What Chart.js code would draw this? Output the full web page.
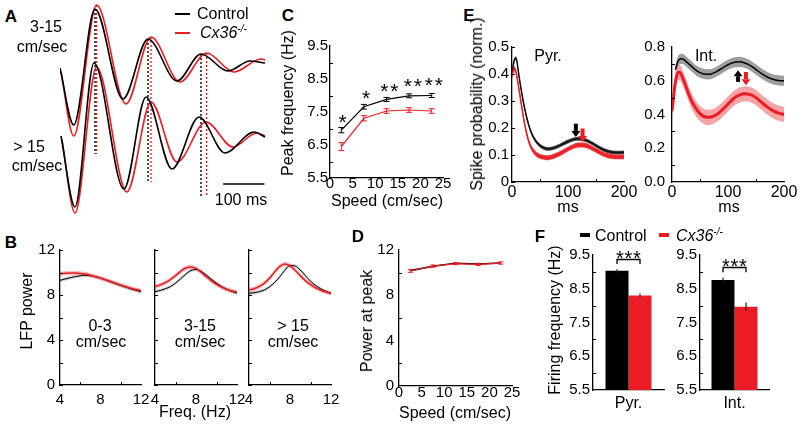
<!DOCTYPE html>
<html><head><meta charset="utf-8">
<script src="https://cdn.jsdelivr.net/npm/chart.js@4.4.1/dist/chart.umd.min.js"></script>
<style>
html,body{margin:0;padding:0;background:#fff;}
body{width:800px;height:426px;position:relative;overflow:hidden;font-family:'Liberation Sans',Arial,Helvetica,sans-serif;color:#000;}
canvas{position:absolute;}
.t{position:absolute;white-space:nowrap;font-size:16px;line-height:1;transform:translate(-50%,-50%);}
.l{transform:translate(0,-50%);}
.v{transform:translate(-50%,-50%) rotate(-90deg);}
.p{font-weight:bold;font-size:17px;}
.bx{position:absolute;}
sup{font-size:10px;vertical-align:6px;line-height:0;font-style:italic;}
</style></head><body>
<script>
// ---------------- DATA ----------------
// Panel A (time in ms, amplitude in arbitrary units)
const upperCtrlT = [0, 33.2, 84.7, 152.5, 213.1, 283.3, 341.4, 406.8, 460, 496.4];
const upperCtrlV = [152, 95, 211, 121, 181, 139, 166, 149, 159, 157];
const upperKoT = [2.4, 33.2, 88.6, 159.8, 220.3, 290.6, 355.0, 421.3, 486.7, 496.4];
const upperKoV = [148, 84, 215, 116, 183, 138, 167, 148, 161, 160];
const lowerCtrlT = [2.4, 36.3, 82.3, 155, 208.2, 271.2, 336.6, 399.5, 469.7, 496.4];
const lowerCtrlV = [84, 13, 157, 31, 123, 51, 103, 67, 88, 83];
const lowerKoT = [4.8, 36.3, 88.6, 162.2, 220.3, 283.3, 353.5, 418.9, 476.5, 496.4];
const lowerKoV = [80, 7, 153, 28, 118, 58, 98, 73, 87, 84];
const peakCtrlT = [84.7, 213.1, 341.4];
const peakCtrlTop = [211, 181, 166];
const peakKoT = [88.6, 220.3, 355.0];
const peakKoTop = [215, 183, 167];
const peakBottom = [66, 38, 23];
const scaleBarT = [395, 495];
const scaleBarV = 36;

// Panel B (LFP power vs frequency)
const bFreq = [4,4.5,5,5.5,6,6.5,7,7.5,8,8.5,9,9.5,10,10.5,11,11.5,12];
const b03Ctrl = [9.30,9.42,9.53,9.63,9.71,9.75,9.72,9.63,9.50,9.35,9.18,9.01,8.85,8.70,8.55,8.42,8.30];
const b03Ko   = [9.90,9.93,9.95,9.95,9.92,9.86,9.76,9.63,9.50,9.36,9.20,9.04,8.88,8.74,8.61,8.49,8.38];
const b315Ctrl = [8.30,8.40,8.55,8.75,9.05,9.45,9.85,10.18,10.27,10.10,9.78,9.40,9.05,8.75,8.52,8.32,8.17];
const b315Ko   = [8.75,8.90,9.10,9.37,9.72,10.10,10.40,10.50,10.36,10.02,9.62,9.26,8.95,8.70,8.50,8.35,8.25];
const b15Ctrl = [8.15,8.20,8.30,8.45,8.72,9.12,9.62,10.20,10.62,10.58,10.22,9.72,9.22,8.85,8.55,8.32,8.15];
const b15Ko   = [8.45,8.56,8.76,9.06,9.50,10.05,10.55,10.76,10.60,10.20,9.72,9.28,8.92,8.64,8.42,8.26,8.15];
const bCtrlSem = 0.15, bKoSem = 0.2;
const bYTicks = [0,4,8,12], bYMinor = [2,6,10], bXTicks = [4,8,12], bXMinor = [6,10];

// Panel C (peak frequency vs speed)
const speeds = [2.5,7.5,12.5,17.5,22.5];
const cCtrl = [6.95,7.66,7.88,7.99,8.00];
const cCtrlErr = [0.08,0.07,0.06,0.06,0.06];
const cKo = [6.45,7.31,7.53,7.56,7.53];
const cKoErr = [0.12,0.08,0.07,0.07,0.07];
const cStars = ['*','*','**','**','**'];
const cStarX = [2.8,8.0,13.1,18.3,23.0];
const cStarY = [7.34,8.07,8.29,8.44,8.49];
const cYTicks = [5.5,6.5,7.5,8.5,9.5], cYMinor = [6,7,8,9];
const speedTicks = [0,5,10,15,20,25];

// Panel D (power at peak vs speed)
const dCtrl = [10.18,10.56,10.83,10.77,10.85];
const dKo = [10.15,10.58,10.80,10.73,10.85];
const dKoErr = [0.12,0.1,0.1,0.1,0.1];
const dYTicks = [0,4,8,12], dYMinor = [2,6,10];

// Panel E (spike probability vs lag)
const eT = [0,2,4,6,8,10,12,15,20,25,30,35,40,45,50,55,60,65,70,80,90,100,110,120,130,140,150,160,170,180,190,200];
const pyrCtrl = [0.40,0.43,0.45,0.458,0.455,0.43,0.40,0.36,0.30,0.25,0.21,0.18,0.16,0.145,0.135,0.128,0.124,0.123,0.124,0.13,0.14,0.15,0.158,0.16,0.156,0.147,0.135,0.123,0.114,0.11,0.109,0.11];
const pyrKo = [0.39,0.41,0.42,0.415,0.40,0.375,0.35,0.31,0.245,0.19,0.15,0.125,0.11,0.10,0.095,0.092,0.09,0.09,0.092,0.10,0.11,0.122,0.132,0.137,0.136,0.128,0.117,0.106,0.098,0.094,0.093,0.093];
const intCtrl = [null,null,null,0.665,0.69,0.71,0.722,0.73,0.728,0.715,0.70,0.685,0.67,0.657,0.648,0.642,0.639,0.638,0.64,0.655,0.675,0.695,0.708,0.712,0.705,0.69,0.666,0.642,0.622,0.609,0.602,0.60];
const intKo = [0.42,0.48,0.54,0.59,0.625,0.645,0.65,0.645,0.61,0.565,0.52,0.48,0.45,0.425,0.405,0.392,0.385,0.383,0.385,0.40,0.428,0.462,0.495,0.515,0.523,0.518,0.50,0.472,0.445,0.423,0.408,0.40];
const pyrCtrlSem = 0.007, pyrKoSem = 0.009, intCtrlSem = 0.03, intKoSem = 0.045;
const pyrArrows = [{x:114, from:0.216, to:0.167, c:'#000'}, {x:126, from:0.198, to:0.148, c:'red'}];
const intArrows = [{x:118, from:0.593, to:0.662, c:'#000'}, {x:132, from:0.652, to:0.573, c:'red'}];
const pyrYTicks = [0,0.1,0.2,0.3,0.4,0.5], pyrYLabels = ['0','0.1','0.2','0.3','0.4','0.5'];
const intYTicks = [0,0.2,0.4,0.6,0.8], intYLabels = ['0.0','0.2','0.4','0.6','0.8'], intYMinor = [0.1,0.3,0.5,0.7];
const msTicks = [0,100,200], msMinor = [50,150];

// Panel F (firing frequency)
const fPyr = [9.03, 8.30], fPyrErr = [0.05, 0.06];
const fInt = [8.76, 7.97], fIntErr = [0.07, 0.12];
const fYTicks = [5.5,6.5,7.5,8.5,9.5], fYMinor = [6,7,8,9];

// ---------------- RENDERING ----------------
const RED = '#ec1c24';
const FF = "'Liberation Sans', Arial, Helvetica, sans-serif";
Chart.defaults.font.family = FF;
Chart.defaults.font.size = 15;
Chart.defaults.color = '#000';

const zip = (xs, ys) => xs.map((x, i) => ({x, y: ys[i]}));

function mkCanvas(plot, m) {
  const c = document.createElement('canvas');
  const W = Math.round(plot.r - plot.l + m.l + m.r), H = Math.round(plot.b - plot.t + m.t + m.b);
  c.width = W; c.height = H;
  c.style.left = (plot.l - m.l) + 'px'; c.style.top = (plot.t - m.t) + 'px';
  c.style.width = W + 'px'; c.style.height = H + 'px';
  document.body.appendChild(c);
  return c;
}

function axis(o) {
  const a = {
    type: o.type || 'linear',
    display: o.display !== false,
    grid: {display: false, drawTicks: false},
    border: {display: true, color: '#000', width: 1.3},
    ticks: {display: false, autoSkip: false, maxRotation: 0},
    afterFit: s => { if (o.size == null) return; if (s.isHorizontal()) s.height = o.size; else s.width = o.size; }
  };
  if (a.type === 'linear') {
    a.min = o.min; a.max = o.max;
    if (o.ticks) a.afterBuildTicks = s => { s.ticks = o.ticks.map(v => ({value: v})); };
  }
  return a;
}

function drawStars(ctx, text, cx, cy, fs, pitch) {
  ctx.font = fs + 'px ' + FF; ctx.textAlign = 'center'; ctx.textBaseline = 'alphabetic'; ctx.fillStyle = '#000';
  const n = text.length, x0 = cx - (n - 1) * pitch / 2;
  for (let k = 0; k < n; k++) ctx.fillText(text[k], x0 + k * pitch, cy + 0.58 * fs);
}

function decor(cfg) {
  return {
    id: 'decor',
    afterDatasetsDraw(chart) {
      const {ctx, chartArea: a, scales} = chart;
      const xs = scales.x, ys = scales.y;
      ctx.save();
      // error bars
      chart.data.datasets.forEach((ds, di) => {
        if (!ds.err) return;
        const meta = chart.getDatasetMeta(di);
        ctx.strokeStyle = ds.errColor || ds.borderColor;
        ctx.lineWidth = ds.errWidth || 1;
        meta.data.forEach((el, i) => {
          const d = ds.data[i];
          const v = (d && typeof d === 'object') ? d.y : d;
          const e = ds.err[i];
          const x = el.x, y1 = ys.getPixelForValue(v + e), y2 = ys.getPixelForValue(v - e);
          ctx.beginPath(); ctx.moveTo(x, y1); ctx.lineTo(x, y2);
          const c = ds.errCap || 0;
          if (c) { ctx.moveTo(x - c, y1); ctx.lineTo(x + c, y1); ctx.moveTo(x - c, y2); ctx.lineTo(x + c, y2); }
          ctx.stroke();
        });
      });
      // inward tick marks
      ctx.strokeStyle = '#000'; ctx.lineWidth = 1;
      const len = cfg.len || 4;
      (cfg.yt || []).forEach(v => { const p = Math.round(ys.getPixelForValue(v)) + 0.5; ctx.beginPath(); ctx.moveTo(a.left, p); ctx.lineTo(a.left + len, p); ctx.stroke(); });
      (cfg.xt || []).forEach(v => { const p = Math.round(xs.getPixelForValue(v)) + 0.5; ctx.beginPath(); ctx.moveTo(p, a.bottom); ctx.lineTo(p, a.bottom - len); ctx.stroke(); });
      // tick labels
      ctx.fillStyle = '#000';
      if (cfg.yl) {
        const o = cfg.yl;
        ctx.font = (o.fs || 15) + 'px ' + FF; ctx.textAlign = 'right'; ctx.textBaseline = 'middle';
        o.ticks.forEach((v, i) => ctx.fillText(o.labels ? o.labels[i] : String(v), a.left - o.pad, ys.getPixelForValue(v)));
      }
      if (cfg.xl) {
        const o = cfg.xl;
        ctx.font = (o.fs || 15) + 'px ' + FF; ctx.textAlign = 'center'; ctx.textBaseline = 'middle';
        o.ticks.forEach((v, i) => ctx.fillText(o.labels ? o.labels[i] : String(v), xs.getPixelForValue(v), a.bottom + o.off));
      }
      // arrows
      (cfg.arrows || []).forEach(ar => {
        const px = xs.getPixelForValue(ar.x), p0 = ys.getPixelForValue(ar.from), p1 = ys.getPixelForValue(ar.to);
        const dir = Math.sign(p1 - p0), hl = 6, hw = 4.5, sw = 2;
        const hb = p1 - dir * hl;
        ctx.fillStyle = ar.c === 'red' ? RED : ar.c;
        ctx.fillRect(px - sw, Math.min(p0, hb), 2 * sw, Math.abs(hb - p0));
        ctx.beginPath(); ctx.moveTo(px - hw, hb); ctx.lineTo(px + hw, hb); ctx.lineTo(px, p1); ctx.closePath(); ctx.fill();
      });
      // significance bracket
      if (cfg.bracket) {
        const b = cfg.bracket;
        const x0 = chart.getDatasetMeta(0).data[0].x, x1 = chart.getDatasetMeta(1).data[0].x;
        const yt = Math.round(ys.getPixelForValue(b.top)) + 0.5, yl = ys.getPixelForValue(b.leg);
        ctx.strokeStyle = '#000'; ctx.lineWidth = 1.3;
        ctx.beginPath(); ctx.moveTo(x0, yl); ctx.lineTo(x0, yt); ctx.lineTo(x1, yt); ctx.lineTo(x1, yl); ctx.stroke();
        drawStars(ctx, b.text, (x0 + x1) / 2, ys.getPixelForValue(b.textY), b.fs, b.pitch);
      }
      // asterisk marks
      if (cfg.marks) {
        const mk = cfg.marks;
        mk.text.forEach((t, i) => drawStars(ctx, t, xs.getPixelForValue(mk.x[i]), ys.getPixelForValue(mk.y[i]), mk.fs, mk.pitch));
      }
      ctx.restore();
    }
  };
}

function build(plot, m, type, datasets, xAx, yAx, cfg, labels) {
  const cv = mkCanvas(plot, m);
  return new Chart(cv, {
    type,
    data: labels ? {labels, datasets} : {datasets},
    options: {
      responsive: false, animation: false, events: [],
      layout: {padding: {left: 0, top: m.t, right: m.r, bottom: 0}},
      scales: {x: xAx, y: yAx},
      plugins: {legend: {display: false}, tooltip: {enabled: false}}
    },
    plugins: [decor(cfg || {})]
  });
}

function line(xs, ys, color, w, extra) {
  return Object.assign({data: zip(xs, ys), borderColor: color, borderWidth: w, pointRadius: 0, fill: false,
    cubicInterpolationMode: 'monotone', order: 0}, extra || {});
}
function band(xs, mean, sem, color) {
  const up = xs.map((x, i) => ({x, y: mean[i] == null ? null : mean[i] + sem}));
  const lo = xs.map((x, i) => ({x, y: mean[i] == null ? null : mean[i] - sem}));
  return [
    {data: up, borderWidth: 0, borderColor: 'transparent', pointRadius: 0, fill: '+1', backgroundColor: color, order: 5, cubicInterpolationMode: 'monotone'},
    {data: lo, borderWidth: 0, borderColor: 'transparent', pointRadius: 0, fill: false, order: 5, cubicInterpolationMode: 'monotone'}
  ];
}

// ---- Panel A ----
(function () {
  const ds = [
    line(upperCtrlT, upperCtrlV, '#000', 1.6, {clip: false}),
    line(lowerCtrlT, lowerCtrlV, '#000', 1.6, {clip: false}),
    line(upperKoT, upperKoV, RED, 1.6, {clip: false}),
    line(lowerKoT, lowerKoV, RED, 1.6, {clip: false})
  ];
  peakCtrlT.forEach((t, i) => ds.push({data: [{x: t, y: peakCtrlTop[i]}, {x: t, y: peakBottom[i]}], borderColor: '#000', borderWidth: 1.4, borderDash: [2, 2], pointRadius: 0, order: 1, clip: false}));
  peakKoT.forEach((t, i) => ds.push({data: [{x: t, y: peakKoTop[i]}, {x: t, y: peakBottom[i]}], borderColor: RED, borderWidth: 1.4, borderDash: [2, 2], pointRadius: 0, order: 1, clip: false}));
  ds.push({data: [{x: scaleBarT[0], y: scaleBarV}, {x: scaleBarT[1], y: scaleBarV}], borderColor: '#000', borderWidth: 1.3, pointRadius: 0, order: 0});
  build({l: 60, t: 0, r: 267, b: 220}, {l: 0, t: 0, r: 0, b: 0}, 'line', ds,
    {type: 'linear', display: false, min: 0, max: 501.2},
    {type: 'linear', display: false, min: 0, max: 220}, {});
})();

// ---- Panel B ----
function panelB(plot, ctrl, ko, showY) {
  const ds = [
    line(bFreq, ko, RED, 1.5),
    line(bFreq, ctrl, '#000', 1),
    ...band(bFreq, ko, bKoSem, 'rgba(236,28,36,0.28)'),
    ...band(bFreq, ctrl, bCtrlSem, 'rgba(0,0,0,0.18)')
  ];
  const cfg = {yt: bYTicks.concat(bYMinor), xt: bXMinor, len: 3, xl: {ticks: bXTicks, off: 15}};
  if (showY) cfg.yl = {ticks: bYTicks, pad: 5};
  build(plot, {l: showY ? 32 : 10, t: 10, r: 10, b: 24}, 'line', ds,
    axis({min: 4, max: 12, ticks: bXTicks, size: 24}),
    axis({min: 0, max: 12, ticks: bYTicks, size: showY ? 32 : 10}), cfg);
}
panelB({l: 60, t: 250, r: 141, b: 385}, b03Ctrl, b03Ko, true);
panelB({l: 155, t: 250, r: 237, b: 385}, b315Ctrl, b315Ko, false);
panelB({l: 249, t: 250, r: 331, b: 385}, b15Ctrl, b15Ko, false);

// ---- Panel C ----
build({l: 330, t: 46, r: 443, b: 178}, {l: 36, t: 10, r: 12, b: 20}, 'line', [
    line(speeds, cCtrl, '#000', 1.2, {err: cCtrlErr, errCap: 3, errColor: '#000', cubicInterpolationMode: 'default'}),
    line(speeds, cKo, RED, 1.2, {err: cKoErr, errCap: 3, errColor: RED, cubicInterpolationMode: 'default'})
  ],
  axis({min: 0, max: 25, ticks: speedTicks, size: 20}),
  axis({min: 5.5, max: 9.5, ticks: cYTicks, size: 36}),
  {yt: cYMinor, len: 3, marks: {text: cStars, x: cStarX, y: cStarY, fs: 21, pitch: 10},
   xl: {ticks: speedTicks, off: 6}, yl: {ticks: cYTicks, pad: 2}});

// ---- Panel D ----
build({l: 399, t: 250, r: 512, b: 386}, {l: 32, t: 10, r: 12, b: 20}, 'line', [
    line(speeds, dKo, RED, 1.2, {err: dKoErr, errCap: 2.5, errColor: RED, cubicInterpolationMode: 'default'}),
    line(speeds, dCtrl, '#000', 1.6, {cubicInterpolationMode: 'default'})
  ],
  axis({min: 0, max: 25, ticks: speedTicks, size: 20}),
  axis({min: 0, max: 12, ticks: dYTicks, size: 32}),
  {yt: dYMinor, len: 3, xl: {ticks: speedTicks, off: 7}, yl: {ticks: dYTicks, pad: 5}});

// ---- Panel E ----
build({l: 512, t: 47, r: 624, b: 182}, {l: 32, t: 10, r: 14, b: 20}, 'line', [
    line(eT, pyrKo, RED, 1.5),
    line(eT, pyrCtrl, '#111', 1.5),
    ...band(eT, pyrKo, pyrKoSem, 'rgba(236,28,36,0.9)'),
    ...band(eT, pyrCtrl, pyrCtrlSem, 'rgba(40,40,40,0.85)')
  ],
  axis({min: 0, max: 200, ticks: msTicks, size: 20}),
  axis({min: 0, max: 0.5, ticks: pyrYTicks, size: 32}),
  {yt: pyrYTicks, xt: msMinor, len: 3, arrows: pyrArrows,
   xl: {ticks: msTicks, off: 11, fs: 16}, yl: {ticks: pyrYTicks, labels: pyrYLabels, pad: 3}});

build({l: 672, t: 47, r: 784, b: 182}, {l: 36, t: 10, r: 14, b: 20}, 'line', [
    line(eT, intCtrl, '#000', 1.5),
    line(eT, intKo, RED, 3),
    ...band(eT, intCtrl, intCtrlSem, 'rgba(0,0,0,0.38)'),
    ...band(eT, intKo, intKoSem, 'rgba(236,28,36,0.4)')
  ],
  axis({min: 0, max: 200, ticks: msTicks, size: 20}),
  axis({min: 0, max: 0.8, ticks: intYTicks, size: 36}),
  {yt: intYMinor, xt: msMinor, len: 3, arrows: intArrows,
   xl: {ticks: msTicks, off: 11, fs: 16}, yl: {ticks: intYTicks, labels: intYLabels, pad: 7}});

// ---- Panel F ----
function panelF(plot, vals, errs, name, br) {
  const cp = 46 / (plot.r - plot.l);
  build(plot, {l: 32, t: 10, r: 6, b: 26}, 'bar', [
      {data: [vals[0]], backgroundColor: '#000', err: [errs[0]], errColor: '#222', errWidth: 1.2, categoryPercentage: cp, barPercentage: 1},
      {data: [vals[1]], backgroundColor: RED, err: [errs[1]], errColor: '#222', errWidth: 1.2, categoryPercentage: cp, barPercentage: 1}
    ],
    axis({type: 'category', size: 26}),
    axis({min: 5.5, max: 9.5, ticks: fYTicks, size: 32}),
    {yt: fYMinor, len: 3, bracket: br, xl: {ticks: [0], labels: [name], off: 14, fs: 16}, yl: {ticks: fYTicks, pad: 3}}, [name]);
}
panelF({l: 593, t: 255, r: 664, b: 390}, fPyr, fPyrErr, 'Pyr.', {top: 9.38, leg: 9.23, textY: 9.56, text: '***', fs: 20, pitch: 8.5});
panelF({l: 700, t: 255, r: 769, b: 390}, fInt, fIntErr, 'Int.', {top: 9.15, leg: 8.99, textY: 9.31, text: '***', fs: 20, pitch: 8.5});
</script>

<!-- panel letters -->
<div class="t p" style="left:11px;top:16px">A</div>
<div class="t p" style="left:11px;top:242px">B</div>
<div class="t p" style="left:288px;top:15px">C</div>
<div class="t p" style="left:358px;top:236px">D</div>
<div class="t p" style="left:469px;top:15px">E</div>
<div class="t p" style="left:540px;top:236px">F</div>

<!-- Panel A texts -->
<div class="t" style="left:46px;top:27px">3-15</div>
<div class="t" style="left:42px;top:47px">cm/sec</div>
<div class="t" style="left:29px;top:147px">&gt; 15</div>
<div class="t" style="left:37px;top:166px">cm/sec</div>
<div class="t" style="left:241px;top:200px">100 ms</div>
<div class="bx" style="left:175px;top:13px;width:15px;height:2px;background:#000"></div>
<div class="t l" style="left:197px;top:14px">Control</div>
<div class="bx" style="left:175px;top:32px;width:15px;height:2px;background:#ec1c24"></div>
<div class="t l" style="left:200px;top:33px"><i>Cx36</i><sup>-/-</sup></div>

<!-- Panel B texts -->
<div class="t v" style="left:27px;top:311px">LFP power</div>
<div class="t" style="left:195px;top:412px">Freq. (Hz)</div>
<div class="t" style="left:100px;top:326px">0-3</div>
<div class="t" style="left:101px;top:342px">cm/sec</div>
<div class="t" style="left:200px;top:326px">3-15</div>
<div class="t" style="left:200px;top:342px">cm/sec</div>
<div class="t" style="left:293px;top:326px">&gt; 15</div>
<div class="t" style="left:293px;top:342px">cm/sec</div>

<!-- Panel C texts -->
<div class="t v" style="left:288px;top:103px">Peak frequency (Hz)</div>
<div class="t" style="left:387px;top:201px">Speed (cm/sec)</div>

<!-- Panel D texts -->
<div class="t v" style="left:367px;top:321px">Power at peak</div>
<div class="t" style="left:455px;top:413px">Speed (cm/sec)</div>

<!-- Panel E texts -->
<div class="t v" style="left:477px;top:104px">Spike probability (norm.)</div>
<div class="t" style="left:548px;top:56px">Pyr.</div>
<div class="t" style="left:706px;top:56px">Int.</div>
<div class="t" style="left:568px;top:207px">ms</div>
<div class="t" style="left:729px;top:207px">ms</div>

<!-- Panel F texts -->
<div class="t v" style="left:555px;top:320px">Firing frequency (Hz)</div>
<div class="bx" style="left:580px;top:233px;width:10px;height:4px;background:#000"></div>
<div class="t l" style="left:595px;top:236px">Control</div>
<div class="bx" style="left:659px;top:233px;width:10px;height:4px;background:#ec1c24"></div>
<div class="t l" style="left:676px;top:236px"><i>Cx36</i><sup>-/-</sup></div>
</body></html>
